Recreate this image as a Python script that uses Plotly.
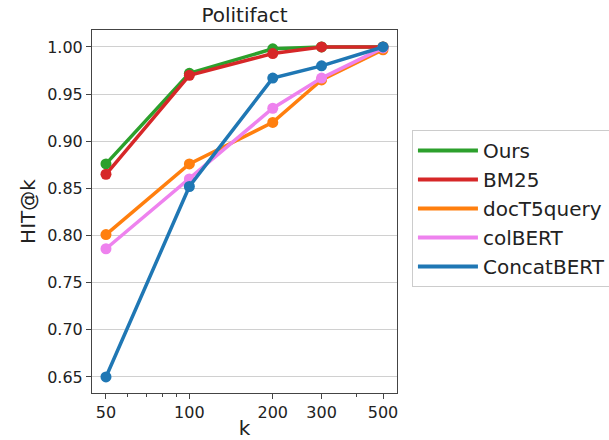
import plotly.graph_objects as go

k = [50, 100, 200, 300, 500]
ours = [0.876, 0.972, 0.998, 1.000, 1.000]
bm25 = [0.865, 0.970, 0.993, 1.000, 1.000]
doct5 = [0.801, 0.876, 0.920, 0.965, 0.997]
colbert = [0.786, 0.860, 0.935, 0.967, 0.999]
concatbert = [0.650, 0.852, 0.967, 0.980, 1.000]

names = ["Ours", "BM25", "docT5query", "colBERT", "ConcatBERT"]
series = [ours, bm25, doct5, colbert, concatbert]
colors = ["#2ca02c", "#d62728", "#ff7f0e", "#ee82ee", "#1f77b4"]

xticks = [50, 100, 200, 300, 500]
xminor = [60, 70, 80, 90, 400]
yticks = [0.65, 0.70, 0.75, 0.80, 0.85, 0.90, 0.95, 1.00]

fig = go.Figure()
for n, s, c in zip(names, series, colors):
    fig.add_trace(go.Scatter(x=k, y=s, name=n, mode="lines+markers",
                             line=dict(color=c, width=3.5),
                             marker=dict(color=c, size=11),
                             legendgroup=n, showlegend=False))
# legend entries drawn as plain lines (no markers), as in the reference
for n, c in zip(names, colors):
    fig.add_trace(go.Scatter(x=[None], y=[None], name=n, mode="lines",
                             line=dict(color=c, width=4),
                             legendgroup=n, showlegend=True))

font = "DejaVu Sans"
fig.update_layout(
    width=609, height=440,
    margin=dict(l=92, r=212, t=30, b=47, autoexpand=False),
    paper_bgcolor="white", plot_bgcolor="white",
    font=dict(family=font, size=16, color="#222"),
    title=dict(text="Politifact", x=(92 + 397) / 2 / 609, xanchor="center",
               y=1 - 15 / 440, yanchor="middle", font=dict(size=20, color="#222")),
    showlegend=True,
    legend=dict(x=1.049, y=(393 - 130) / 363, xanchor="left", yanchor="top",
                bordercolor="#cccccc", borderwidth=1, font=dict(size=20),
                itemwidth=60, tracegroupgap=0),
)
fig.update_xaxes(type="log", range=[1.6485, 2.7495], automargin=False,
                 tickvals=xticks, ticktext=[str(v) for v in xticks],
                 ticks="outside", ticklen=5, tickcolor="#444",
                 showline=True, linecolor="#444", linewidth=1, mirror=True,
                 showgrid=False, zeroline=False,
                 minor=dict(tickvals=xminor, ticks="outside",
                            ticklen=3, tickcolor="#444", showgrid=False),
                 title=dict(text="k", font=dict(size=20), standoff=3))
fig.update_yaxes(range=[0.633, 1.018], automargin=False,
                 tickvals=yticks, ticktext=["%.2f" % v for v in yticks],
                 ticks="outside", ticklen=5, tickcolor="#444",
                 showline=True, linecolor="#444", linewidth=1, mirror=True,
                 showgrid=True, gridcolor="#d0d0d0", gridwidth=1, zeroline=False,
                 title=dict(text="HIT@k", font=dict(size=20), standoff=6))

fig.write_html("out.html", config={"displayModeBar": False},
               post_script="document.body.style.margin='0';")
